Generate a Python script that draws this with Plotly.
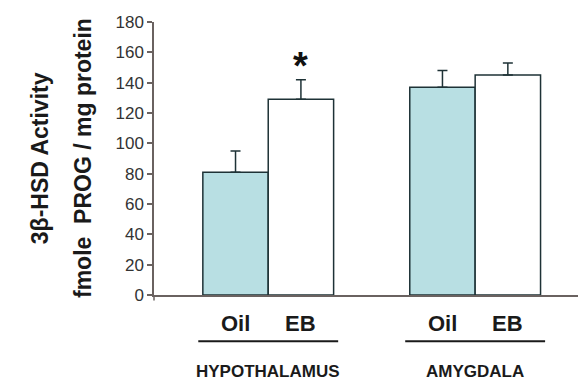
import plotly.graph_objects as go

# Data
regions = ["HYPOTHALAMUS", "AMYGDALA"]
treatments = ["Oil", "EB"]
oil_mean = [81, 137]
oil_sem = [14, 11]
eb_mean = [129, 145]
eb_sem = [13, 8]
significant_eb = [True, False]
y_ticks = [0, 20, 40, 60, 80, 100, 120, 140, 160, 180]

group_pos = [1, 2]
bar_w = 0.316          # width of one bar in axis units
font = "Arial, Liberation Sans, sans-serif"
edge = "#1e3236"
axis_col = "#6a6260"

fig = go.Figure()
fig.add_trace(go.Bar(
    x=group_pos, y=oil_mean, name="Oil", width=bar_w, offset=-bar_w,
    marker=dict(color="#b8dfe3", line=dict(color=edge, width=1.5)),
    error_y=dict(type="data", array=oil_sem, arrayminus=[0, 0], symmetric=False,
                 color=edge, thickness=1.5, width=5),
))
fig.add_trace(go.Bar(
    x=group_pos, y=eb_mean, name="EB", width=bar_w, offset=0,
    marker=dict(color="white", line=dict(color=edge, width=1.5)),
    error_y=dict(type="data", array=eb_sem, arrayminus=[0, 0], symmetric=False,
                 color=edge, thickness=1.5, width=5),
))

annotations = []
shapes = []
for g, region in zip(group_pos, regions):
    # treatment labels under each bar
    for off, t in zip([-bar_w / 2, bar_w / 2], treatments):
        annotations.append(dict(x=g + off, y=-0.103, xref="x", yref="paper", text=f"<b>{t}</b>",
                                showarrow=False, font=dict(family=font, size=22, color="#1a1a1a"),
                                yanchor="middle"))
    # bracket line under the pair
    shapes.append(dict(type="line", xref="x", yref="paper", x0=g - 0.338, x1=g + 0.338,
                       y0=-0.169, y1=-0.169, line=dict(color="#1a1a1a", width=2)))
    annotations.append(dict(x=g, y=-0.282, xref="x", yref="paper", text=f"<b>{region}</b>",
                            showarrow=False, font=dict(family=font, size=17, color="#1a1a1a"),
                            yanchor="middle"))

# significance marker
for g, m, s, sig in zip(group_pos, eb_mean, eb_sem, significant_eb):
    if sig:
        annotations.append(dict(x=g + bar_w / 2, y=m + s - 6.5, xref="x", yref="y", text="<b>*</b>",
                                showarrow=False, font=dict(family=font, size=38, color="#111"),
                                yanchor="bottom"))

# y-axis titles
annotations.append(dict(x=-0.305, y=0.5, xref="paper", yref="paper", text="<b>3β-HSD Activity</b>",
                        textangle=-90, showarrow=False, font=dict(family=font, size=23, color="#1a1a1a")))
annotations.append(dict(x=-0.204, y=0.5, xref="paper", yref="paper",
                        text="<b>fmole  PROG / mg protein</b>",
                        textangle=-90, showarrow=False, font=dict(family=font, size=23, color="#1a1a1a")))

# short extension of the y axis below zero
shapes.append(dict(type="line", xref="paper", yref="paper", x0=0, x1=0, y0=0, y1=-0.02,
                   line=dict(color=axis_col, width=1.5)))

fig.update_layout(
    width=578, height=381,
    margin=dict(l=154, r=0, t=22, b=86),
    paper_bgcolor="white", plot_bgcolor="white",
    showlegend=False, barmode="overlay",
    annotations=annotations, shapes=shapes,
    xaxis=dict(range=[0.448, 2.497], showticklabels=False, ticks="", showgrid=False,
               zeroline=False, showline=True, linecolor=axis_col, linewidth=1.5),
    yaxis=dict(range=[0, 180], tickvals=y_ticks, ticks="outside", ticklen=5, tickcolor=axis_col,
               tickwidth=1.5, showgrid=False, zeroline=False, showline=True, linecolor=axis_col,
               linewidth=1.5, tickfont=dict(family=font, size=17, color="#333")),
)

fig.write_html("out.html")
